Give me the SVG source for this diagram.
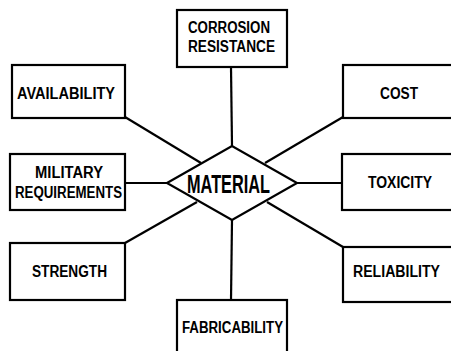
<svg xmlns="http://www.w3.org/2000/svg" width="451" height="351" viewBox="0 0 451 351">
<style>
.box{fill:#fff;stroke:#000;stroke-width:2.2}
.ln{stroke:#000;stroke-width:2.2;fill:none}
.t{font-family:"Liberation Sans",Arial,sans-serif;font-weight:bold;font-size:16px;fill:#000;text-anchor:start}
.m{font-size:26px}
</style>
<rect width="451" height="351" fill="#fff"/>
<g id="connectors">
<line class="ln" x1="231" y1="67" x2="232" y2="146"/>
<line class="ln" x1="231" y1="300" x2="232" y2="220"/>
<line class="ln" x1="125" y1="117" x2="201" y2="163"/>
<line class="ln" x1="343" y1="117" x2="265" y2="163"/>
<line class="ln" x1="125" y1="183" x2="167" y2="183"/>
<line class="ln" x1="297" y1="183" x2="342" y2="183"/>
<line class="ln" x1="125" y1="243" x2="197" y2="202"/>
<line class="ln" x1="343" y1="247" x2="267" y2="202"/>
</g>
<g id="material">
<polygon class="box" points="167,183 232,146 297,183 232,220"/>
<text class="t m" x="187" y="193" textLength="83" lengthAdjust="spacingAndGlyphs">MATERIAL</text>
</g>
<g id="corrosion">
<rect class="box" x="177" y="10" width="110" height="57"/>
<text class="t" x="188" y="33" textLength="82" lengthAdjust="spacingAndGlyphs">CORROSION</text>
<text class="t" x="188" y="52" textLength="87" lengthAdjust="spacingAndGlyphs">RESISTANCE</text>
</g>
<g id="availability">
<rect class="box" x="12" y="65" width="113" height="53"/>
<text class="t" x="17" y="99" textLength="98" lengthAdjust="spacingAndGlyphs">AVAILABILITY</text>
</g>
<g id="cost">
<rect class="box" x="343" y="65" width="110" height="53"/>
<text class="t" x="380" y="99" textLength="38" lengthAdjust="spacingAndGlyphs">COST</text>
</g>
<g id="military">
<rect class="box" x="10" y="154" width="115" height="56"/>
<text class="t" x="35" y="178" textLength="68" lengthAdjust="spacingAndGlyphs">MILITARY</text>
<text class="t" x="15" y="198" textLength="107" lengthAdjust="spacingAndGlyphs">REQUIREMENTS</text>
</g>
<g id="toxicity">
<rect class="box" x="342" y="154" width="111" height="56"/>
<text class="t" x="368" y="188" textLength="64" lengthAdjust="spacingAndGlyphs">TOXICITY</text>
</g>
<g id="strength">
<rect class="box" x="10" y="243" width="115" height="57"/>
<text class="t" x="32" y="277" textLength="75" lengthAdjust="spacingAndGlyphs">STRENGTH</text>
</g>
<g id="reliability">
<rect class="box" x="343" y="247" width="110" height="55"/>
<text class="t" x="353" y="277" textLength="87" lengthAdjust="spacingAndGlyphs">RELIABILITY</text>
</g>
<g id="fabricability">
<rect class="box" x="177" y="300" width="110" height="60"/>
<text class="t" x="182" y="333" textLength="101" lengthAdjust="spacingAndGlyphs">FABRICABILITY</text>
</g>
</svg>
